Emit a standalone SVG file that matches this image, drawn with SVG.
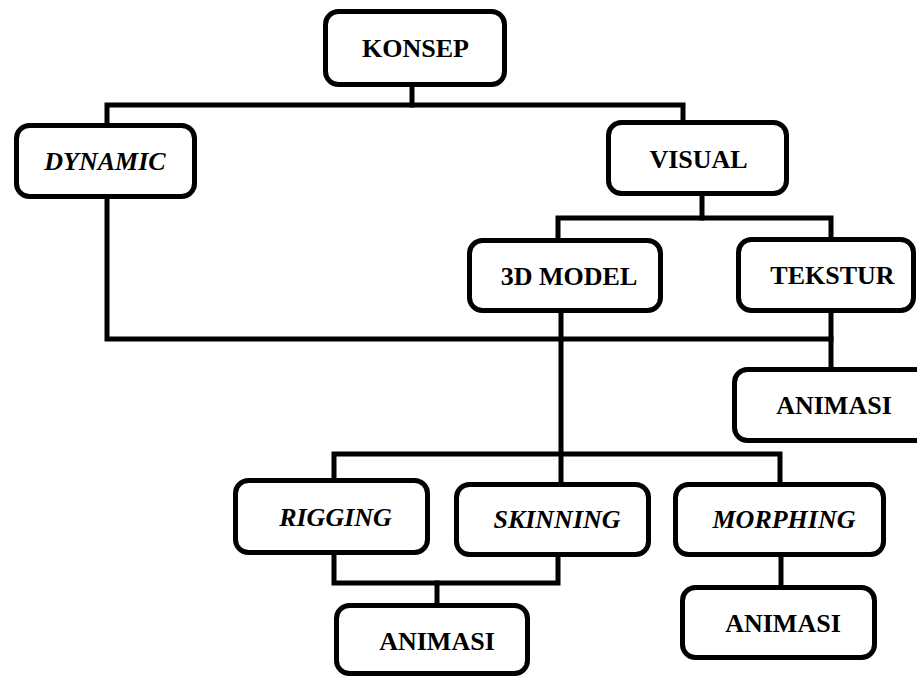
<svg xmlns="http://www.w3.org/2000/svg" width="917" height="677" viewBox="0 0 917 677">
<style>
.box{fill:#fff;stroke:#000;stroke-width:5}
text{font-family:'Liberation Serif','Times New Roman',Times,'DejaVu Serif',serif;font-weight:bold;font-size:26px;text-anchor:middle;fill:#000}
.it{font-style:italic}
.con{fill:none;stroke:#000;stroke-width:5;stroke-linejoin:miter;stroke-linecap:square}
</style>
<rect width="917" height="677" fill="#fff"/>
<g id="connectors">
<path class="con" d="M412 87 V105"/>
<path class="con" d="M107 123 V105 H683 V120"/>
<path class="con" d="M107 199 V339 H831"/>
<path class="con" d="M702 196 V218"/>
<path class="con" d="M558 238 V218 H831 V237"/>
<path class="con" d="M831 313 V367"/>
<path class="con" d="M561 313 V482"/>
<path class="con" d="M334 478 V454 H780 V482"/>
<path class="con" d="M334 555 V583 H558 V557"/>
<path class="con" d="M437 583 V603"/>
<path class="con" d="M781 557 V585"/>
</g>
<g id="konsep"><rect class="box" x="325.5" y="11.5" width="179" height="73" rx="13"/><text font-family="Liberation Serif, serif" x="415.5" y="57">KONSEP</text></g>
<g id="dynamic"><rect class="box" x="16.5" y="125.5" width="178" height="71" rx="13"/><text class="it" font-family="Liberation Serif, serif" x="105" y="170">DYNAMIC</text></g>
<g id="visual"><rect class="box" x="608.5" y="122.5" width="178" height="71" rx="13"/><text font-family="Liberation Serif, serif" x="698.5" y="168">VISUAL</text></g>
<g id="model3d"><rect class="box" x="469.5" y="240.5" width="191" height="70" rx="13"/><text font-family="Liberation Serif, serif" x="569" y="285">3D MODEL</text></g>
<g id="tekstur"><rect class="box" x="738.5" y="239.5" width="175" height="71" rx="13"/><text font-family="Liberation Serif, serif" x="832.5" y="284">TEKSTUR</text></g>
<g id="animasi1"><rect class="box" x="734.5" y="369.5" width="200" height="71" rx="13"/><text font-family="Liberation Serif, serif" x="834" y="414">ANIMASI</text></g>
<g id="rigging"><rect class="box" x="235.5" y="480.5" width="192" height="72" rx="13"/><text class="it" font-family="Liberation Serif, serif" x="335.5" y="526">RIGGING</text></g>
<g id="skinning"><rect class="box" x="456.5" y="484.5" width="192" height="70" rx="13"/><text class="it" font-family="Liberation Serif, serif" x="557" y="528">SKINNING</text></g>
<g id="morphing"><rect class="box" x="675.5" y="484.5" width="208" height="70" rx="13"/><text class="it" font-family="Liberation Serif, serif" x="784" y="528">MORPHING</text></g>
<g id="animasi2"><rect class="box" x="336.5" y="605.5" width="191" height="68" rx="13"/><text font-family="Liberation Serif, serif" x="437" y="650">ANIMASI</text></g>
<g id="animasi3"><rect class="box" x="682.5" y="587.5" width="192" height="70" rx="13"/><text font-family="Liberation Serif, serif" x="783" y="632">ANIMASI</text></g>
</svg>
